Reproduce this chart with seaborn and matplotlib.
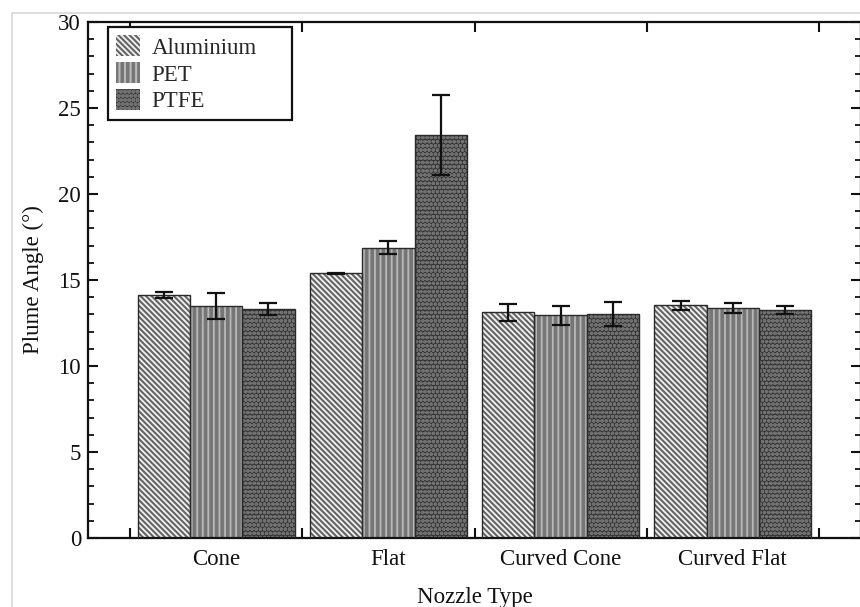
import numpy as np
import pandas as pd
import matplotlib
matplotlib.use("Agg")
import matplotlib.pyplot as plt
import seaborn as sns
from matplotlib.patches import Rectangle, Patch
from matplotlib.lines import Line2D
from matplotlib.ticker import MultipleLocator

# ---- data ----
nozzles = ["Cone", "Flat", "Curved Cone", "Curved Flat"]
materials = ["Aluminium", "PET", "PTFE"]
aluminium = [14.12, 15.38, 13.12, 13.53]
pet = [13.50, 16.88, 12.95, 13.37]
ptfe = [13.30, 23.43, 13.05, 13.27]
aluminium_err = [0.18, 0.05, 0.48, 0.25]
pet_err = [0.75, 0.37, 0.54, 0.27]
ptfe_err = [0.34, 2.30, 0.70, 0.22]

values = {"Aluminium": aluminium, "PET": pet, "PTFE": ptfe}
errors = {"Aluminium": aluminium_err, "PET": pet_err, "PTFE": ptfe_err}

rows = []
for m in materials:
    for n, v, e in zip(nozzles, values[m], errors[m]):
        rows.append({"Nozzle": n, "Material": m, "Angle": v, "Err": e})
df = pd.DataFrame(rows)

# ---- style ----
sns.set_theme(style="white")
plt.rcParams["font.family"] = ["Liberation Serif", "DejaVu Serif"]
plt.rcParams["font.size"] = 16.5
plt.rcParams["hatch.linewidth"] = 1.5
plt.rcParams["axes.linewidth"] = 1.6

styles = {
    "Aluminium": dict(face="#f2f2f2", hatch="\\" * 6, hcol="#646464", hlw=1.5),
    "PET": dict(face="#767676", hatch="|||", hcol="#b8b8b8", hlw=1.3),
    "PTFE": dict(face="#323232", hatch="oooo", hcol="#707070", hlw=1.3),
}

fig = plt.figure(figsize=(8.6, 6.07), dpi=100)
ax = fig.add_axes([88 / 860, (607 - 538) / 607, (861 - 88) / 860, 516 / 607])

sns.barplot(data=df, x="Nozzle", y="Angle", hue="Material", order=nozzles,
            hue_order=materials, errorbar=None, width=0.91, gap=0,
            palette=["#ffffff"] * 3, ax=ax, legend=False)


def style_patch(p, st):
    p.set_facecolor(st["face"])
    p.set_hatch(st["hatch"])
    p.set_edgecolor(st["hcol"])
    p.set_linewidth(0)
    if hasattr(p, "set_hatch_linewidth"):
        p.set_hatch_linewidth(st["hlw"])


for m, cont in zip(materials, ax.containers):
    st = styles[m]
    for bar, err in zip(cont.patches, errors[m]):
        style_patch(bar, st)
        ax.add_patch(Rectangle((bar.get_x(), bar.get_y()), bar.get_width(),
                               bar.get_height(), fill=False,
                               edgecolor="#2a2a2a", linewidth=1.0, zorder=3))
        ax.errorbar(bar.get_x() + bar.get_width() / 2, bar.get_height(),
                    yerr=err, color="#111111", elinewidth=1.6, capsize=6.5,
                    capthick=1.6, zorder=4)

ax.set_ylim(0, 30)
ax.set_xlim(-0.745, len(nozzles) - 1 + 0.745)

ax.set_xticks(np.arange(len(nozzles) + 1) - 0.5, labels=[""] * (len(nozzles) + 1))
ax.set_xticks(np.arange(len(nozzles)), labels=nozzles, minor=True)
ax.tick_params(axis="x", which="major", direction="in", length=7.5, width=1.5,
               top=True, bottom=True, colors="#111111")
ax.tick_params(axis="x", which="minor", length=0, pad=8, labelsize=16.5,
               labelcolor="#111111")

ax.yaxis.set_major_locator(MultipleLocator(5))
ax.yaxis.set_minor_locator(MultipleLocator(1))
ax.tick_params(axis="y", which="major", direction="in", length=7.5, width=1.5,
               left=True, right=True, pad=5, labelsize=16.5, colors="#111111")
ax.tick_params(axis="y", which="minor", direction="in", length=4, width=1.3,
               left=True, right=True, colors="#111111")

for s in ax.spines.values():
    s.set_color("#111111")
    s.set_linewidth(1.6)

ax.set_xlabel("Nozzle Type", fontsize=16.5, labelpad=12, color="#111111")
ax.set_ylabel("Plume Angle (°)", fontsize=16.5, labelpad=10, color="#111111")

handles = []
for m in materials:
    h = Patch()
    style_patch(h, styles[m])
    handles.append(h)
leg = ax.legend(handles, materials, loc="upper left",
                bbox_to_anchor=(0.026, 0.80, 0.238, 0.19), mode="expand",
                borderaxespad=0, fancybox=False, framealpha=1,
                edgecolor="#111111", handlelength=1.05, handleheight=1.05,
                handletextpad=0.5, labelspacing=0.15, borderpad=0.35,
                fontsize=16.5)
leg.get_frame().set_linewidth(1.6)

# light page border seen in reference
fig.add_artist(Line2D([12 / 860, 12 / 860], [0, 1 - 13 / 607], color="#d8d8d8", lw=1.2))
fig.add_artist(Line2D([12 / 860, 1], [1 - 13 / 607, 1 - 13 / 607], color="#d8d8d8", lw=1.2))

fig.savefig("out.png", dpi=100)
